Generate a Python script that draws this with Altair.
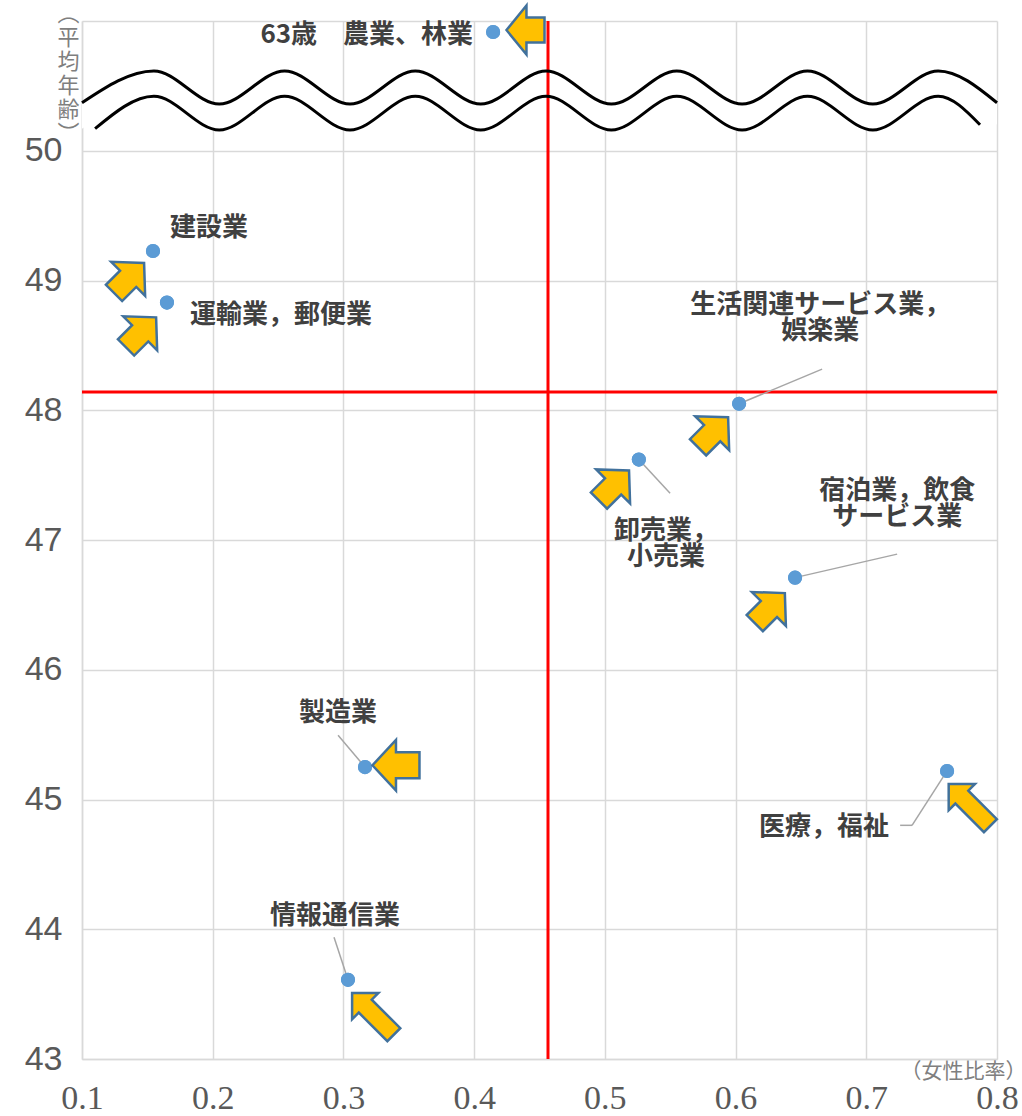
import altair as alt
import pandas as pd

# ---- data ----
industries = ["農業、林業", "建設業", "運輸業，郵便業", "生活関連サービス業，娯楽業",
              "卸売業，小売業", "宿泊業，飲食サービス業", "製造業", "情報通信業", "医療，福祉"]
female_ratio = [0.4145, 0.1543, 0.165, 0.6027, 0.526, 0.6455, 0.3165, 0.3035, 0.7618]
# plotted age (agriculture = 63 is drawn above the axis break)
avg_age_plot = [50.915, 49.227, 48.83, 48.05, 47.62, 46.71, 45.25, 43.61, 45.22]

# label texts and anchors
label_text = ["63歳\u3000農業、林業", "建設業", "運輸業，郵便業", "生活関連サービス業，\n娯楽業",
              "卸売業，\n小売業", "宿泊業，飲食\nサービス業", "製造業", "情報通信業", "医療，福祉"]
label_x = [0.3992, 0.1972, 0.1826, 0.6647, 0.5468, 0.7236, 0.2959, 0.2936, 0.7174]
label_y = [50.892, 49.404, 48.733, 48.81, 47.068, 47.376, 45.665, 44.099, 44.786]
label_align = ["right", "center", "left", "center", "center", "center", "center", "center", "right"]

# leader lines (x1, y1, x2, y2)
leader_x1 = [0.6027, 0.526, 0.6455, 0.3165, 0.3035, 0.7618, 0.735]
leader_y1 = [48.05, 47.62, 46.71, 45.25, 43.61, 45.22, 44.801]
leader_x2 = [0.6662, 0.5499, 0.7236, 0.2959, 0.2928, 0.735, 0.7259]
leader_y2 = [48.317, 47.361, 46.891, 45.495, 43.938, 44.801, 44.801]

# arrow annotations
arrow_x = [0.4393, 0.1360, 0.1452, 0.5828, 0.5070, 0.6262, 0.3402, 0.3226, 0.7790]
arrow_y = [50.93, 49.02, 48.60, 47.83, 47.42, 46.475, 45.264, 43.348, 44.959]
arrow_dir = [270, 45, 45, 45, 45, 45, 270, 315, 315]
arrow_kind = ["small", "diag", "diag", "diag", "diag", "diag", "block", "long", "long"]

# reference lines
mean_ratio = 0.4565
mean_age = 48.14

# axis break wave (peaks / troughs)
wave_x = [0.1, 0.155, 0.205, 0.255, 0.305, 0.355, 0.405, 0.455, 0.505, 0.555,
          0.605, 0.655, 0.705, 0.755, 0.8]
wave_upper = [50.37, 50.615, 50.36, 50.615, 50.36, 50.615, 50.36, 50.615, 50.36, 50.615,
              50.36, 50.615, 50.36, 50.615, 50.37]
wave_lower = [50.17, 50.42, 50.16, 50.42, 50.16, 50.42, 50.16, 50.42, 50.16, 50.42,
              50.16, 50.42, 50.16, 50.42, 50.2]

x_ticks = [0.1, 0.2, 0.3, 0.4, 0.5, 0.6, 0.7, 0.8]
y_ticks = [43, 44, 45, 46, 47, 48, 49, 50, 51]

# ---- tables ----
pts = pd.DataFrame({"industry": industries, "ratio": female_ratio, "age": avg_age_plot})
labels = pd.DataFrame({"text": label_text, "x": label_x, "y": label_y, "align": label_align})
leaders = pd.DataFrame({"x1": leader_x1, "y1": leader_y1, "x2": leader_x2, "y2": leader_y2})
arrows = pd.DataFrame({"x": arrow_x, "y": arrow_y, "dir": arrow_dir, "kind": arrow_kind})
wave = pd.DataFrame({"x": wave_x, "up": wave_upper, "lo": wave_lower})
wave_lo_line = wave.copy()
wave_lo_line.loc[0, "x"] = 0.11
wave_lo_line.loc[len(wave_lo_line) - 1, "x"] = 0.787

GRID = "#D9D9D9"
xscale = alt.Scale(domain=[0.1, 0.8], nice=False, zero=False)
yscale = alt.Scale(domain=[43, 51], nice=False, zero=False)

X = alt.X("ratio:Q", scale=xscale, axis=alt.Axis(
    values=x_ticks, format=".1f", labelFont="Liberation Sans Narrow", labelFontSize=34,
    labelColor="#595959", labelPadding=22, ticks=False, domainColor=GRID, domainWidth=1.5,
    gridColor=GRID, gridWidth=1.5, labelFlush=False,
    title="（女性比率）", titleFont="Noto Sans CJK JP", titleFontSize=21, titleFontWeight="normal",
    titleColor="#7F7F7F", titleAlign="right", titleBaseline="middle", titleX=944, titleY=12,
    titleAnchor="end"))
Y = alt.Y("age:Q", scale=yscale, axis=alt.Axis(
    values=y_ticks, format="d", labelExpr="datum.value > 50 ? '' : datum.label",
    labelFont="Liberation Sans", labelFontSize=34, labelColor="#595959", labelPadding=20,
    ticks=False, domainColor=GRID, domainWidth=1.5, gridColor=GRID, gridWidth=1.5,
    title=["︵", "平", "均", "年", "齢", "︶"], titleFont="Noto Sans CJK JP", titleFontSize=22,
    titleFontWeight="normal", titleColor="#7F7F7F", titleAngle=0, titleAlign="center",
    titleBaseline="top", titleX=-14, titleY=-18, titleLineHeight=24))

base_pts = alt.Chart(pts).mark_circle(size=200, color="#5B9BD5", opacity=1).encode(x=X, y=Y)

band = alt.Chart(wave).mark_area(color="white", interpolate="monotone", opacity=1).encode(
    x=alt.X("x:Q", scale=xscale), y=alt.Y("up:Q", scale=yscale), y2="lo:Q")
wave_up_line = alt.Chart(wave).mark_line(color="black", strokeWidth=3, interpolate="monotone").encode(
    x=alt.X("x:Q", scale=xscale), y=alt.Y("up:Q", scale=yscale))
wave_low_line = alt.Chart(wave_lo_line).mark_line(color="black", strokeWidth=3, interpolate="monotone").encode(
    x=alt.X("x:Q", scale=xscale), y=alt.Y("lo:Q", scale=yscale))

vrule = alt.Chart(pd.DataFrame({"v": [mean_ratio]})).mark_rule(color="#FF0000", strokeWidth=3).encode(
    x=alt.X("v:Q", scale=xscale))
hrule = alt.Chart(pd.DataFrame({"v": [mean_age]})).mark_rule(color="#FF0000", strokeWidth=3).encode(
    y=alt.Y("v:Q", scale=yscale))

lead = alt.Chart(leaders).mark_rule(color="#A6A6A6", strokeWidth=1.5).encode(
    x=alt.X("x1:Q", scale=xscale), y=alt.Y("y1:Q", scale=yscale), x2="x2:Q", y2="y2:Q")

# arrow shapes (pointing up before rotation)
ARROW_BLOCK = "M0,-1 L1.08,0 L0.55,0 L0.55,1 L-0.55,1 L-0.55,0 L-1.08,0 Z"
ARROW_DIAG = "M0,-1 L1.13,0.06 L0.54,0.06 L0.54,1 L-0.54,1 L-0.54,0.06 L-1.13,0.06 Z"
ARROW_SMALL = "M0,-1 L1.29,0.05 L0.66,0.05 L0.66,1 L-0.66,1 L-0.66,0.05 L-1.29,0.05 Z"
ARROW_LONG = "M0,-1 L0.63,-0.37 L0.31,-0.37 L0.31,1 L-0.31,1 L-0.31,-0.37 L-0.63,-0.37 Z"
arrow_specs = [("block", ARROW_BLOCK, 2209), ("diag", ARROW_DIAG, 1806),
               ("small", ARROW_SMALL, 1444), ("long", ARROW_LONG, 3481)]
arrow_layers = []
for kind, path, sz in arrow_specs:
    arrow_layers.append(
        alt.Chart(arrows).transform_filter(alt.datum.kind == kind).mark_point(
            shape=path, size=sz, filled=True, fill="#FFC000", stroke="#41719C",
            strokeWidth=2.5, opacity=1, strokeJoin="miter").encode(
            x=alt.X("x:Q", scale=xscale), y=alt.Y("y:Q", scale=yscale),
            angle=alt.Angle("dir:Q", scale=None)))

text_layers = []
for a in ["left", "center", "right"]:
    text_layers.append(
        alt.Chart(labels[labels["align"] == a]).mark_text(
            align=a, baseline="middle", font="Noto Sans CJK JP", fontSize=26, fontWeight="bold",
            color="#404040", lineBreak="\n", lineHeight=26).encode(
            x=alt.X("x:Q", scale=xscale), y=alt.Y("y:Q", scale=yscale), text="text:N"))

chart = alt.layer(base_pts, band, vrule, wave_up_line, wave_low_line, hrule, lead, base_pts,
                  *arrow_layers, *text_layers).properties(
    width=915, height=1038,
    autosize=alt.AutoSizeParams(type="none"),
    padding={"left": 82, "top": 21, "right": 25, "bottom": 57},
    background="white",
).configure_view(stroke=None)

chart.save("out.html", embed_options={"renderer": "svg", "actions": False})
